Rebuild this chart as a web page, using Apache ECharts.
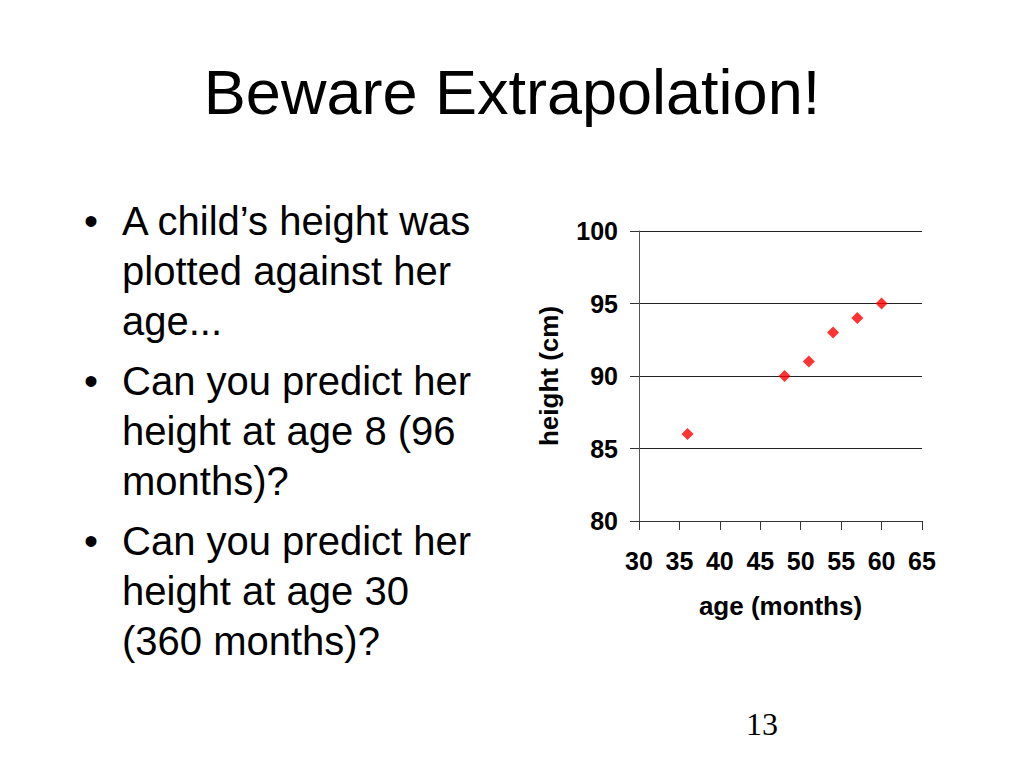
<!DOCTYPE html>
<html>
<head>
<meta charset="utf-8">
<script src="https://cdn.jsdelivr.net/npm/echarts@6/dist/echarts.min.js"></script>
<style>
html,body{margin:0;padding:0;background:#fff;}
#chart{width:1024px;height:768px;}
</style>
</head>
<body>
<div id="chart"></div>
<script>
var titleText = 'Beware Extrapolation!';
var bulletLines = [
  ['A child\u2019s height was', 'plotted against her', 'age...'],
  ['Can you predict her', 'height at age 8 (96', 'months)?'],
  ['Can you predict her', 'height at age 30', '(360 months)?']
];
var pageNumber = '13';
var ages = [36, 48, 51, 54, 57, 60];
var heights = [86, 90, 91, 93, 94, 95];
var xAxisName = 'age (months)';
var yAxisName = 'height (cm)';

var points = ages.map(function (a, i) { return [a, heights[i]]; });
var SANS = '"Liberation Sans", Arial, sans-serif';

var graphics = [];
graphics.push({
  type: 'text', left: 'center', top: 60,
  style: { text: titleText, font: '63px ' + SANS, fill: '#000' }
});
var y = 201, lineH = 50, paraGap = 10;
bulletLines.forEach(function (para) {
  graphics.push({
    type: 'text', x: 84, y: y,
    style: { text: '\u2022', font: '40px ' + SANS, fill: '#000' }
  });
  para.forEach(function (line, j) {
    graphics.push({
      type: 'text', x: 122, y: y,
      style: { text: line, font: '40px ' + SANS, fill: '#000' }
    });
    if (j < para.length - 1) y += lineH;
  });
  y += lineH + paraGap;
});
graphics.push({
  type: 'text', x: 762, y: 708,
  style: { text: pageNumber, font: '32px "Liberation Serif", "Times New Roman", serif', fill: '#000', align: 'center' }
});

var chart = echarts.init(document.getElementById('chart'), null, { renderer: 'svg' });
chart.setOption({
  animation: false,
  backgroundColor: '#fff',
  graphic: graphics,
  grid: { left: 639, top: 231, width: 283, height: 290, containLabel: false },
  xAxis: {
    type: 'value', min: 30, max: 65, interval: 5,
    name: xAxisName, nameLocation: 'middle', nameGap: 72,
    nameTextStyle: { fontFamily: SANS, fontWeight: 'bold', fontSize: 26, color: '#000' },
    axisLine: { show: true, lineStyle: { color: '#333', width: 1 } },
    axisTick: { show: true, inside: false, length: 9, lineStyle: { color: '#333' } },
    axisLabel: { margin: 27, fontFamily: SANS, fontWeight: 'bold', fontSize: 25, color: '#000' },
    splitLine: { show: false }
  },
  yAxis: {
    type: 'value', min: 80, max: 100, interval: 5,
    name: yAxisName, nameLocation: 'middle', nameGap: 77, nameRotate: 90,
    nameTextStyle: { fontFamily: SANS, fontWeight: 'bold', fontSize: 26, color: '#000' },
    axisLine: { show: true, lineStyle: { color: '#555', width: 1 } },
    axisTick: { show: true, inside: false, length: 9, lineStyle: { color: '#333' } },
    axisLabel: { margin: 21, fontFamily: SANS, fontWeight: 'bold', fontSize: 25, color: '#000' },
    splitLine: { show: true, lineStyle: { color: '#222', width: 1 } }
  },
  series: [{
    type: 'scatter',
    data: points,
    symbol: 'diamond',
    symbolSize: 12,
    itemStyle: { color: '#ff0000' }
  }]
});
</script>
</body>
</html>
